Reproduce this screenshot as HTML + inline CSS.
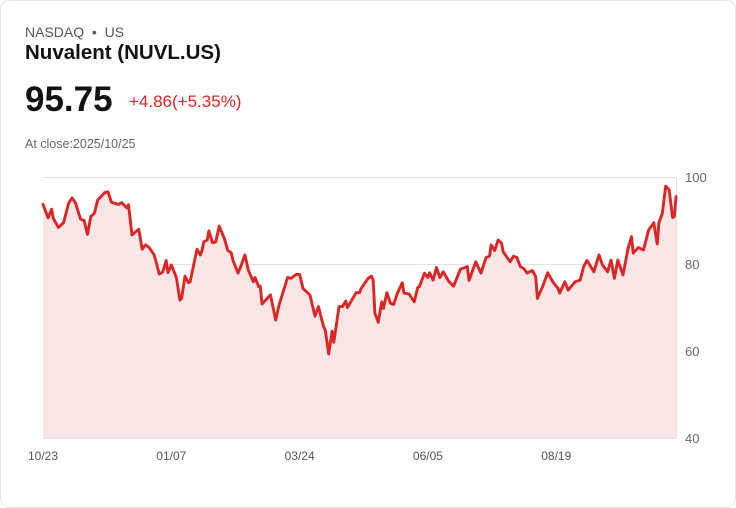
<!DOCTYPE html>
<html><head><meta charset="utf-8"><style>
body{margin:0;background:#fff;font-family:"Liberation Sans",Arial,sans-serif;}
.card{position:absolute;left:0;top:0;width:734px;height:506px;border:1px solid #e3e5ea;border-radius:10px;background:#fff;}
.t{position:absolute;white-space:nowrap;}
</style></head><body>
<div class="card">
<div class="t" style="left:24px;top:23px;font-size:14px;color:#555;">NASDAQ &nbsp;•&nbsp; US</div>
<div class="t" style="left:24px;top:40px;font-size:20.5px;font-weight:bold;color:#111;">Nuvalent (NUVL.US)</div>
<div class="t" style="left:24px;top:79px;font-size:35px;font-weight:bold;color:#111;">95.75</div>
<div class="t" style="left:128px;top:91px;font-size:17px;color:#dc2626;font-weight:500;">+4.86(+5.35%)</div>
<div class="t" style="left:24px;top:136px;font-size:12.5px;color:#666;">At close:2025/10/25</div>
<svg id="chart" width="736" height="508" style="position:absolute;left:-1px;top:-1px"></svg>
</div>
<script>
const days=[0,3,5,6,9,12,15,17,19,22,24,26,28,30,32,36,38,40,44,46,49,50,52,56,58,60,62,65,68,70,72,73,75,78,80,81,83,85,86,90,92,93,94,96,97,99,101,103,106,108,110,111,114,115,118,120,123,124,126,127,128,133,136,138,141,143,145,148,150,152,156,159,161,164,165,167,169,170,173,175,177,178,183,185,186,190,192,193,194,196,198,199,201,203,205,207,210,211,214,217,219,220,223,225,226,228,230,232,234,237,240,244,248,249,253,256,259,261,262,264,266,268,269,273,275,277,279,281,283,286,288,289,292,295,298,301,302,305,307,311,314,316,318,322,325,327,330,332,334,336,339,342,344,345,348,351,354,357,359,360,362,364,366,368,369,370];
const prices=[93.7,90.6,92.6,90.5,88.4,89.5,94.0,95.2,94.0,90.3,90.0,86.8,91.0,91.6,94.7,96.4,96.6,94.2,93.7,94.1,92.9,93.6,86.7,88.0,83.4,84.4,83.8,82.1,77.7,78.2,80.8,78.0,79.8,76.9,71.7,72.1,77.2,75.7,75.9,83.4,82.1,83.2,85.1,85.5,87.6,84.9,85.1,88.7,85.9,83.1,82.6,80.9,77.9,78.8,82.1,78.6,75.9,76.9,74.8,74.9,70.8,72.9,67.1,70.6,74.4,76.9,76.7,77.6,77.6,74.4,72.9,68.0,70.2,65.6,64.8,59.3,64.6,62.0,70.2,70.2,71.5,70.0,73.4,73.4,74.4,76.7,77.2,76.3,68.7,66.6,71.3,69.8,73.4,71.0,70.7,73.1,75.7,73.3,73.1,71.3,74.6,74.8,77.9,76.9,78.0,76.3,79.2,76.9,78.2,76.1,74.9,78.8,79.4,76.2,80.5,77.9,81.5,81.8,84.4,83.1,85.5,84.8,82.8,80.5,81.8,81.5,79.4,79.0,77.9,78.5,77.1,72.1,74.8,78.0,75.9,74.4,73.3,75.9,74.0,75.9,76.3,79.4,80.8,78.2,82.1,79.8,78.2,80.9,76.7,80.9,77.5,83.6,86.3,82.5,83.8,83.2,87.8,89.5,84.6,89.5,91.6,97.9,97.0,90.7,90.9,95.5];
const yTicks=[40,60,80,100];
const xTickDays=[0,75,150,225,300];
const xTickLabels=["10/23","01/07","03/24","06/05","08/19"];
const X0=43,X1=676,Y0=438,Y1=177,DMAX=370,VMIN=40,VMAX=100;
const sx=d=>X0+(d/DMAX)*(X1-X0);
const sy=v=>Y0-(v-VMIN)/(VMAX-VMIN)*(Y0-Y1);
const svg=document.getElementById('chart');
const NS='http://www.w3.org/2000/svg';
function mk(tag,attrs){const e=document.createElementNS(NS,tag);for(const k in attrs)e.setAttribute(k,attrs[k]);svg.appendChild(e);return e;}
yTicks.forEach(v=>{
  const g=mk('line',{x1:X0,x2:X1,y1:sy(v)+0.5,y2:sy(v)+0.5,stroke:'#e2e2e2','stroke-width':1});
  
  
  const t=mk('text',{x:X1+9,y:sy(v)+5,'font-size':13,fill:'#666','font-family':'Liberation Sans, sans-serif'});
  t.textContent=v;
  
  
});
const ax=mk('line',{x1:X1+0.5,x2:X1+0.5,y1:Y1,y2:Y0,stroke:'#e2e2e2'});


let d='';
days.forEach((dd,i)=>{d+=(i?'L':'M')+sx(dd).toFixed(1)+','+sy(prices[i]).toFixed(1);});
const area=mk('path',{d:d+'L'+sx(days[days.length-1])+','+Y0+'L'+sx(days[0])+','+Y0+'Z',fill:'#fae6e7'});


const line=mk('path',{d:d,fill:'none',stroke:'#dc2626','stroke-width':2.9,'stroke-linejoin':'round','stroke-linecap':'round'});


xTickDays.forEach((dd,i)=>{
  const t=mk('text',{x:sx(dd),y:460,'font-size':12,fill:'#555','text-anchor':'middle','font-family':'Liberation Sans, sans-serif'});
  t.textContent=xTickLabels[i];
  
  
});
</script>
</body></html>
